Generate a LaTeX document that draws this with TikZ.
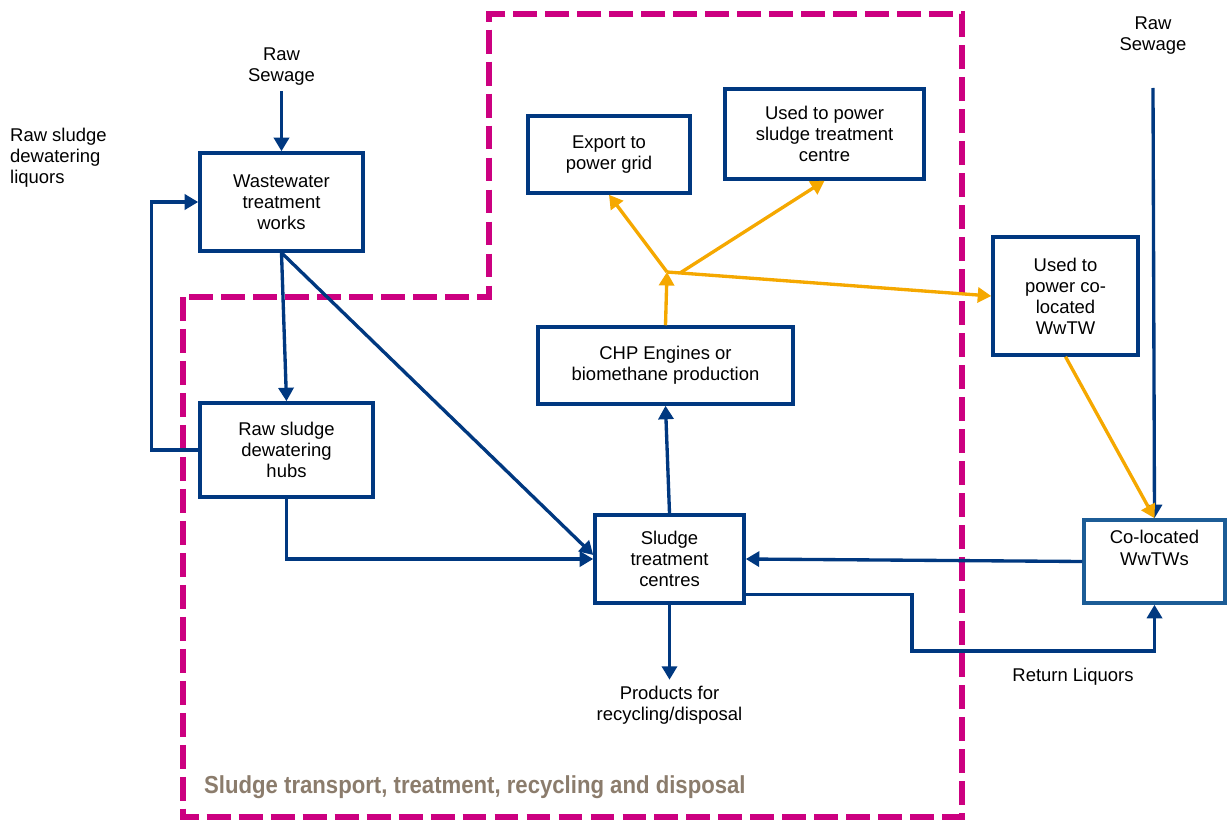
\documentclass[tikz,border=0pt]{standalone}
\usepackage{fontspec}
\setmainfont{Liberation Sans}
\usepackage{graphicx}
\usetikzlibrary{arrows.meta, positioning}

\definecolor{navy}{RGB}{0,56,128}
\definecolor{amber}{RGB}{245,168,0}
\definecolor{zonepink}{RGB}{204,0,128}
\definecolor{zonetext}{RGB}{139,124,108}
\definecolor{coloblue}{RGB}{28,92,150}

\begin{document}
\begin{tikzpicture}[
  x=0.2mm, y=-0.2mm,               % one unit = one pixel of the sketch
  >={Triangle[length=2.7mm,width=3mm]},
  font=\fontsize{10.5}{12}\selectfont,
  box/.style={
    rectangle, draw=navy, line width=2pt,
    fill=white, align=center, inner sep=2pt
  },
  flow/.style={->, draw=navy, line width=1.9pt},
  power/.style={->, draw=amber, line width=1.9pt},
  txt/.style={align=center},
  zone/.style={draw=zonepink, line width=3.6pt, dash pattern=on 13.6pt off 4.6pt},
]
\useasboundingbox (0,0) rectangle (1228,821);

% --- Dashed sludge zone ---
\draw[zone] (183,297) -- (183,817) -- (962,817) -- (962,14)
  -- (489,14) -- (489,297) -- cycle;
\node[anchor=west, text=zonetext, font=\fontsize{14}{16}\selectfont\bfseries]
  (zonelab) at (198,787) {\scalebox{0.9}[1]{Sludge transport, treatment, recycling and disposal}};

% --- Left side: works and hubs ---
\node[box, minimum width=32.6mm, minimum height=19.6mm] (wwtw) at (281.5,202)
  {Wastewater\\ treatment\\ works};
\node[txt, above=1.2cm of wwtw] (rs1) {Raw\\ Sewage};
\node[box, minimum width=34.6mm, minimum height=18.8mm] (hubs) at (286.5,450)
  {Raw sludge\\ dewatering\\ hubs};
\node[txt, anchor=west, align=left] (liq) at (4,158) {Raw sludge\\ dewatering\\ liquors};

% --- Centre: treatment and energy ---
\node[box, minimum width=29.8mm, minimum height=17.6mm] (stc) at (669.5,559)
  {Sludge\\ treatment\\ centres};
\node[txt, below=1.5cm of stc] (prod) {Products for\\ recycling/disposal};
\node[box, minimum width=51mm, minimum height=15.4mm] (chp) at (665.5,365.5)
  {CHP Engines or\\ biomethane production};
\node[box, minimum width=32.4mm, minimum height=15.4mm] (grid) at (609,154.5)
  {Export to\\ power grid};
\node[box, minimum width=39.8mm, minimum height=18mm] (ownuse) at (824.5,134)
  {Used to power\\ sludge treatment\\ centre};
\coordinate (split) at (667,272);
\coordinate (splitb) at (680,273);

% --- Right side: co-located works ---
\node[box, minimum width=29mm, minimum height=23.6mm] (colpow) at (1065.5,296)
  {Used to\\ power co-\\ located\\ WwTW};
\node[box, draw=coloblue, minimum width=28.2mm, minimum height=16.6mm] (coloc) at (1154.5,561.5)
  {Co-located\\ WwTWs\\ \strut};
\node[txt] (rs2) at (1153,36) {Raw\\ Sewage};
\coordinate (rs2in) at (1153,88);
\coordinate (ret) at (912,651);
\node[txt] (retlab) at (1073,677) {Return Liquors};

% --- Sludge arrows ---
\draw[flow] (rs1.south) -- (wwtw.north);
\draw[flow] (hubs.west) -- ++(-47,0) |- (wwtw.west);
\draw[flow] (wwtw.south) -- (hubs.north);
\draw[flow] (wwtw.south) -- ([yshift=0.08cm]stc.west);
\draw[flow] (hubs.south) |- (stc.west);
\draw[flow] (stc.south) -- (prod.north);
\draw[flow] (stc.north) -- (chp.south);
\draw[flow] (rs2in) -- (coloc.north);
\draw[flow] (coloc.west) -- (stc.east);
\draw[flow] ([yshift=0.2cm]stc.south east) -| (ret) -| (coloc.south);

% --- Energy arrows ---
\draw[power] (chp.north) -- (split);
\draw[power] (split) -- (grid.south);
\draw[power] (splitb) -- (ownuse.south);
\draw[power] (split) -- (colpow.west);
\draw[power] (colpow.south) -- (coloc.north);

\end{tikzpicture}
\end{document}
